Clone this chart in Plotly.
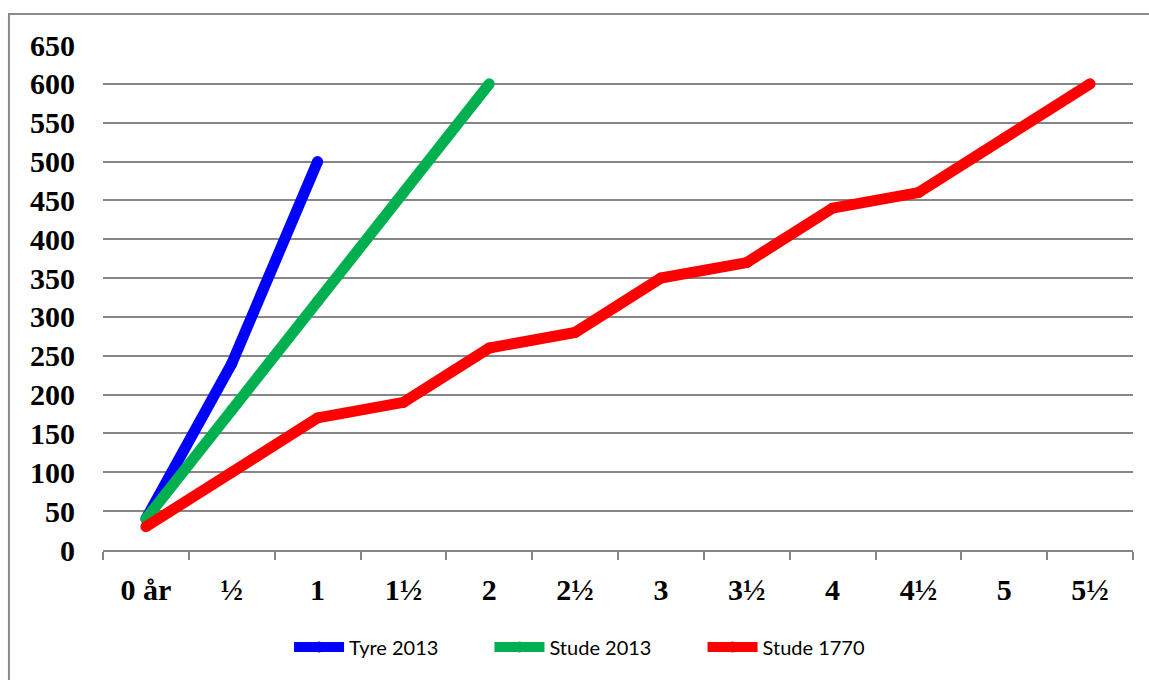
import plotly.graph_objects as go

categories = ["0 år", "½", "1", "1½", "2", "2½", "3", "3½", "4", "4½", "5", "5½"]
tyre_2013 = [40, 240, 500]
stude_2013 = [40, 180, 320, 460, 600]
stude_1770 = [30, 100, 170, 190, 260, 280, 350, 370, 440, 460, 530, 600]
y_ticks = list(range(0, 651, 50))

series = [
    ("Tyre 2013", tyre_2013, "#0000FF"),
    ("Stude 2013", stude_2013, "#00B050"),
    ("Stude 1770", stude_1770, "#FF0000"),
]

SERIF = "Liberation Serif"
PAD = "\u00a0" * 9

fig = go.Figure()
for name, vals, color in series:
    fig.add_trace(go.Scatter(
        x=categories[:len(vals)], y=vals, name=name + PAD, mode="lines+markers",
        line=dict(color=color, width=11),
        marker=dict(color=color, size=11, line=dict(width=0)),
    ))

fig.update_layout(
    width=1149, height=680,
    margin=dict(l=103, r=16, t=45, b=130),
    paper_bgcolor="white", plot_bgcolor="white",
    font=dict(family=SERIF, size=24, color="black"),
    showlegend=True,
    legend=dict(orientation="h", x=0.485, xanchor="center", y=-0.192, yanchor="middle",
                font=dict(family="Lato", size=20, color="black"),
                itemwidth=50, tracegroupgap=0),
    shapes=[dict(type="rect", xref="paper", yref="paper",
                 x0=-0.0913, x1=1.2, y0=-0.6, y1=1.0614,
                 line=dict(color="#8a8a8a", width=2), fillcolor="rgba(0,0,0,0)", layer="below")],
)
fig.update_xaxes(
    type="category", categoryorder="array", categoryarray=categories,
    range=[-0.5, 11.5], tickson="boundaries", ticks="outside", ticklen=8,
    tickcolor="#868686", tickwidth=2, showline=True, linecolor="#868686", linewidth=2,
    showgrid=False, ticklabelstandoff=12,
    tickfont=dict(family=SERIF, size=30, color="black", weight="bold"),
)
fig.update_yaxes(
    range=[0, 650], tickvals=y_ticks, showgrid=True, gridcolor="#868686", gridwidth=2,
    zeroline=False, showline=False, ticks="", ticklabelstandoff=27,
    tickfont=dict(family=SERIF, size=30, color="black", weight="bold"),
)

fig.write_html("out.html", config={"displayModeBar": False},
               post_script="document.body.style.margin='0';")
